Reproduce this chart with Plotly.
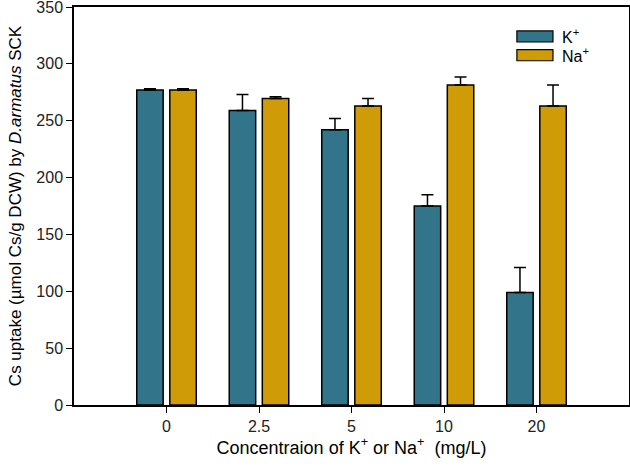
import plotly.graph_objects as go

categories = ["0", "2.5", "5", "10", "20"]
k_values = [277, 259, 242, 175, 99]
k_errors = [1, 14, 10, 10, 22]
na_values = [277, 269.5, 263, 281.5, 263]
na_errors = [1, 1.5, 6.5, 7, 18.5]
series_names = ["K<sup>+</sup>", "Na<sup>+</sup>"]
colors = ["#32748A", "#CF9C07"]

fig = go.Figure()
for vals, errs, name, col in [(k_values, k_errors, series_names[0], colors[0]),
                              (na_values, na_errors, series_names[1], colors[1])]:
    fig.add_trace(go.Bar(
        x=list(range(len(categories))), y=vals, name=name,
        marker=dict(color=col, line=dict(color="black", width=1.5)),
        error_y=dict(type="data", array=errs, arrayminus=[0]*len(errs), symmetric=False,
                     color="black", thickness=1.5, width=6),
        showlegend=False,
    ))

# manual legend
legend_y = [0.912, 0.865]
for name, col, y0 in zip(series_names, colors, legend_y):
    fig.add_shape(type="rect", xref="paper", yref="paper",
                  x0=0.798, x1=0.863, y0=y0, y1=y0 + 0.028,
                  fillcolor=col, line=dict(color="black", width=1.2))
    fig.add_annotation(xref="paper", yref="paper", x=0.875, y=y0 + 0.014,
                       text=name, showarrow=False, xanchor="left", yanchor="middle",
                       font=dict(size=16, color="black"))

fig.update_layout(
    width=630, height=466,
    margin=dict(l=74, r=1, t=7, b=61),
    paper_bgcolor="white", plot_bgcolor="white",
    barmode="group", bargap=0.285, bargroupgap=0.2,
    font=dict(family="Liberation Sans, Arial, sans-serif", color="black", size=16),
    xaxis=dict(
        tickmode="array", tickvals=list(range(len(categories))), ticktext=categories,
        range=[-1, 5], showline=True, linecolor="black", linewidth=1.5, mirror=True,
        ticks="outside", ticklen=6, tickwidth=1.2, tickcolor="black",
        showgrid=False, zeroline=False, automargin=False,
        title=dict(text="Concentraion of K<sup>+</sup> or Na<sup>+</sup>  (mg/L)",
                   font=dict(size=18), standoff=6),
        tickfont=dict(size=16, color="#222222"),
    ),
    yaxis=dict(
        range=[0, 350], tickvals=[0, 50, 100, 150, 200, 250, 300, 350],
        showline=True, linecolor="black", linewidth=1.5, mirror=True,
        ticks="outside", ticklen=6, tickwidth=1.2, tickcolor="black",
        showgrid=False, zeroline=False, automargin=False, ticklabeloverflow="allow",
        title=dict(text="Cs uptake (µmol Cs/g DCW) by <i>D.armatus</i> SCK",
                   font=dict(size=17), standoff=10),
        tickfont=dict(size=16, color="#222222"),
    ),
)

fig.write_html("out.html", config={"displayModeBar": False},
               post_script="document.body.style.margin='0';window.dispatchEvent(new Event('resize'));")
